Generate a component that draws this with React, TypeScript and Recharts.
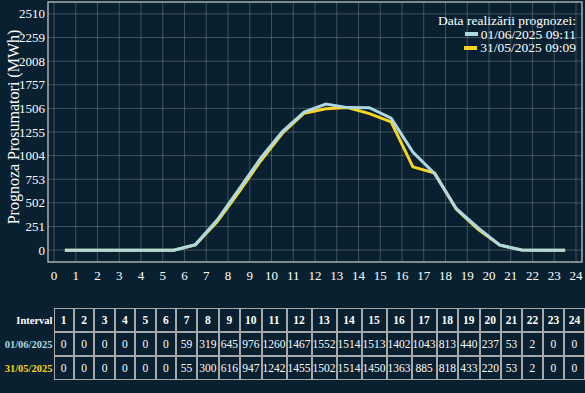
import { LineChart, Line, XAxis, YAxis, CartesianGrid, ReferenceArea, Label } from 'recharts';

const intervals = [1, 2, 3, 4, 5, 6, 7, 8, 9, 10, 11, 12, 13, 14, 15, 16, 17, 18, 19, 20, 21, 22, 23, 24];
const forecastJun01 = [0, 0, 0, 0, 0, 0, 59, 319, 645, 976, 1260, 1467, 1552, 1514, 1513, 1402, 1043, 813, 440, 237, 53, 2, 0, 0];
const forecastMay31 = [0, 0, 0, 0, 0, 0, 55, 300, 616, 947, 1242, 1455, 1502, 1514, 1450, 1363, 885, 818, 433, 220, 53, 2, 0, 0];
const xTicks = [0, 1, 2, 3, 4, 5, 6, 7, 8, 9, 10, 11, 12, 13, 14, 15, 16, 17, 18, 19, 20, 21, 22, 23, 24];
const yTicks = [0, 251, 502, 753, 1004, 1255, 1506, 1757, 2008, 2259, 2510];

const series = [
  { key: 'jun01', label: '01/06/2025', time: '09:11', values: forecastJun01, color: '#add8e6' },
  { key: 'may31', label: '31/05/2025', time: '09:09', values: forecastMay31, color: '#f9d422' },
];

const BG = '#08202f';
const FONT = '"Liberation Serif", "DejaVu Serif", serif';
const X_DOMAIN: [number, number] = [-0.276, 24.276];
const Y_DOMAIN: [number, number] = [-126, 2636];

const data = intervals.map((iv, i) => ({
  x: iv - 0.5,
  jun01: forecastJun01[i],
  may31: forecastMay31[i],
}));

export default function App() {
  const cellBorder = '1px solid #a8a8a8';
  return (
    <div
      style={{
        position: 'fixed',
        left: 0,
        top: 0,
        width: 585,
        height: 393,
        background: BG,
        fontFamily: FONT,
        color: '#fff',
        overflow: 'hidden',
      }}
    >
      <LineChart
        width={585}
        height={290}
        data={data}
        margin={{ top: 2, right: 3, left: 0, bottom: 0 }}
      >
        <CartesianGrid stroke="rgba(200,200,200,0.3)" strokeWidth={1} />
        <XAxis
          type="number"
          dataKey="x"
          domain={X_DOMAIN}
          ticks={xTicks}
          interval={0}
          allowDataOverflow
          axisLine={false}
          tickLine={false}
          tickSize={0}
          tickMargin={9}
          height={28}
          tick={{ fill: '#fff', fontSize: 13, fontFamily: FONT }}
        />
        <YAxis
          type="number"
          domain={Y_DOMAIN}
          ticks={yTicks}
          interval={0}
          allowDataOverflow
          axisLine={false}
          tickLine={false}
          tickSize={0}
          tickMargin={3}
          width={48}
          tick={{ fill: '#fff', fontSize: 13, fontFamily: FONT }}
        >
          <Label
            content={() => (
              <text
                x={13}
                y={127}
                transform="rotate(-90 13 127)"
                textAnchor="middle"
                dominantBaseline="central"
                fill="#fff"
                fontSize={16}
                fontFamily={FONT}
              >
                Prognoza Prosumatori (MWh)
              </text>
            )}
          />
        </YAxis>
        <ReferenceArea
          x1={X_DOMAIN[0]}
          x2={X_DOMAIN[1]}
          y1={Y_DOMAIN[0]}
          y2={Y_DOMAIN[1]}
          fill="none"
          fillOpacity={0}
          stroke="rgba(200,200,200,0.75)"
          strokeWidth={1.5}
          ifOverflow="visible"
        />
        {[...series].reverse().map((s) => (
          <Line
            key={s.key}
            type="linear"
            dataKey={s.key}
            stroke={s.color}
            strokeWidth={3}
            dot={false}
            activeDot={false}
            isAnimationActive={false}
          />
        ))}
      </LineChart>

      {/* Legend */}
      <div
        style={{
          position: 'absolute',
          right: 9,
          top: 14,
          fontSize: 13.5,
          lineHeight: '13.5px',
          textAlign: 'right',
        }}
      >
        <div>Data realizării prognozei:</div>
        {series.map((s) => (
          <div key={s.key} style={{ display: 'flex', alignItems: 'center', justifyContent: 'flex-end' }}>
            <span
              style={{
                display: 'inline-block',
                width: 13,
                height: 4,
                background: s.color,
                marginRight: 3,
              }}
            />
            <span>
              {s.label} {s.time}
            </span>
          </div>
        ))}
      </div>

      {/* Table */}
      <table
        style={{
          position: 'absolute',
          left: 0,
          top: 308,
          borderCollapse: 'separate',
          borderSpacing: 0,
          tableLayout: 'fixed',
          fontFamily: FONT,
          fontSize: 11.5,
          color: '#fff',
        }}
      >
        <colgroup>
          <col style={{ width: 54 }} />
          {intervals.map((iv) => (
            <col key={iv} style={{ width: 21.75 }} />
          ))}
        </colgroup>
        <tbody>
          <tr style={{ height: 24 }}>
            <td style={{ textAlign: 'right', fontWeight: 'bold', fontSize: 10.5, padding: '0 1px 0 0' }}>
              Interval
            </td>
            {intervals.map((iv) => (
              <td
                key={iv}
                style={{ border: cellBorder, textAlign: 'center', padding: 0, fontWeight: 'bold' }}
              >
                {iv}
              </td>
            ))}
          </tr>
          {series.map((s) => (
            <tr key={s.key} style={{ height: 24 }}>
              <td
                style={{
                  textAlign: 'right',
                  fontWeight: 'bold',
                  fontSize: 10.5,
                  padding: '0 1px 0 0',
                  color: s.color,
                  whiteSpace: 'nowrap',
                }}
              >
                {s.label}
              </td>
              {s.values.map((v, i) => (
                <td
                  key={i}
                  style={{
                    border: cellBorder,
                    textAlign: 'center',
                    padding: 0,
                    whiteSpace: 'nowrap',
                    overflow: 'visible',
                  }}
                >
                  {v}
                </td>
              ))}
            </tr>
          ))}
        </tbody>
      </table>
    </div>
  );
}
